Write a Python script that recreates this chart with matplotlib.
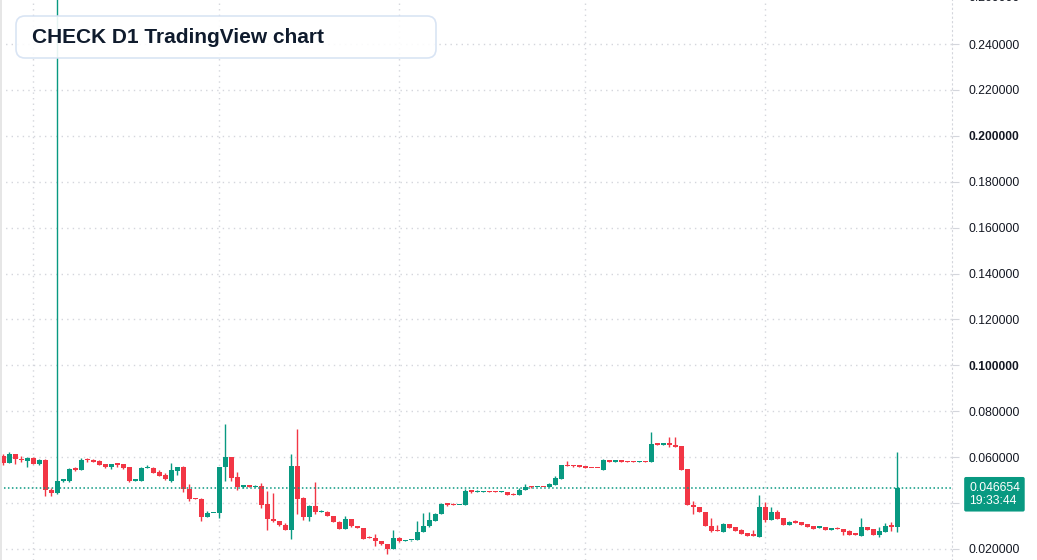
import matplotlib
matplotlib.use("Agg")
import matplotlib.pyplot as plt
from matplotlib.patches import FancyBboxPatch, Rectangle
from matplotlib.transforms import IdentityTransform
import numpy as np

# daily OHLC (150 candles)
opens = [0.0604, 0.0575, 0.0615, 0.0591, 0.0584, 0.0597, 0.0571, 0.0588, 0.0459, 0.0445,
         0.0497, 0.0496, 0.0551, 0.0546, 0.0590, 0.0584, 0.0583, 0.0571, 0.0559, 0.0571,
         0.0571, 0.0558, 0.0497, 0.0497, 0.0551, 0.0554, 0.0536, 0.0523, 0.0497, 0.0541,
         0.0558, 0.0462, 0.0423, 0.0419, 0.0338, 0.0355, 0.0355, 0.0556, 0.0600, 0.0513,
         0.0470, 0.0477, 0.0470, 0.0475, 0.0397, 0.0332, 0.0323, 0.0306, 0.0281, 0.0562,
         0.0423, 0.0338, 0.0387, 0.0359, 0.0361, 0.0343, 0.0319, 0.0285, 0.0332, 0.0301,
         0.0293, 0.0250, 0.0249, 0.0236, 0.0223, 0.0198, 0.0249, 0.0233, 0.0237, 0.0237,
         0.0272, 0.0298, 0.0324, 0.0351, 0.0397, 0.0397, 0.0390, 0.0390, 0.0454, 0.0448,
         0.0448, 0.0451, 0.0451, 0.0448, 0.0449, 0.0438, 0.0435, 0.0455, 0.0471, 0.0468,
         0.0472, 0.0468, 0.0480, 0.0506, 0.0567, 0.0567, 0.0562, 0.0562, 0.0554, 0.0554,
         0.0546, 0.0588, 0.0581, 0.0584, 0.0581, 0.0581, 0.0577, 0.0581, 0.0577, 0.0658,
         0.0655, 0.0658, 0.0654, 0.0649, 0.0549, 0.0393, 0.0384, 0.0362, 0.0301, 0.0284,
         0.0275, 0.0310, 0.0297, 0.0284, 0.0271, 0.0262, 0.0253, 0.0384, 0.0327, 0.0362,
         0.0336, 0.0306, 0.0319, 0.0319, 0.0310, 0.0301, 0.0293, 0.0297, 0.0284, 0.0290,
         0.0288, 0.0280, 0.0267, 0.0258, 0.0297, 0.0288, 0.0262, 0.0275, 0.0301, 0.0297]
highs = [0.0615, 0.0622, 0.0615, 0.0604, 0.0600, 0.0600, 0.0591, 0.0593, 0.0464, 0.3000,
         0.0501, 0.0554, 0.0558, 0.0597, 0.0597, 0.0593, 0.0588, 0.0571, 0.0571, 0.0571,
         0.0571, 0.0558, 0.0506, 0.0558, 0.0567, 0.0557, 0.0543, 0.0529, 0.0575, 0.0558,
         0.0562, 0.0484, 0.0423, 0.0423, 0.0367, 0.0358, 0.0556, 0.0745, 0.0600, 0.0535,
         0.0480, 0.0480, 0.0480, 0.0488, 0.0451, 0.0445, 0.0323, 0.0314, 0.0615, 0.0723,
         0.0426, 0.0393, 0.0493, 0.0371, 0.0364, 0.0343, 0.0322, 0.0345, 0.0332, 0.0301,
         0.0293, 0.0255, 0.0267, 0.0236, 0.0223, 0.0284, 0.0252, 0.0240, 0.0240, 0.0323,
         0.0358, 0.0362, 0.0358, 0.0401, 0.0401, 0.0401, 0.0393, 0.0462, 0.0459, 0.0458,
         0.0454, 0.0451, 0.0451, 0.0451, 0.0449, 0.0442, 0.0467, 0.0484, 0.0475, 0.0471,
         0.0472, 0.0488, 0.0516, 0.0567, 0.0585, 0.0567, 0.0562, 0.0562, 0.0554, 0.0554,
         0.0594, 0.0588, 0.0584, 0.0584, 0.0584, 0.0584, 0.0584, 0.0584, 0.0710, 0.0662,
         0.0658, 0.0688, 0.0688, 0.0649, 0.0549, 0.0409, 0.0384, 0.0362, 0.0336, 0.0306,
         0.0313, 0.0310, 0.0297, 0.0288, 0.0271, 0.0284, 0.0436, 0.0406, 0.0384, 0.0371,
         0.0336, 0.0323, 0.0327, 0.0319, 0.0310, 0.0301, 0.0297, 0.0297, 0.0293, 0.0294,
         0.0288, 0.0284, 0.0267, 0.0336, 0.0297, 0.0288, 0.0297, 0.0314, 0.0319, 0.0623]
lows = [0.0567, 0.0575, 0.0571, 0.0578, 0.0559, 0.0571, 0.0567, 0.0433, 0.0429, 0.0438,
        0.0493, 0.0491, 0.0541, 0.0542, 0.0578, 0.0581, 0.0565, 0.0555, 0.0549, 0.0558,
        0.0549, 0.0490, 0.0497, 0.0497, 0.0551, 0.0533, 0.0516, 0.0499, 0.0494, 0.0523,
        0.0448, 0.0407, 0.0416, 0.0320, 0.0338, 0.0355, 0.0333, 0.0498, 0.0498, 0.0459,
        0.0465, 0.0471, 0.0468, 0.0378, 0.0281, 0.0317, 0.0300, 0.0281, 0.0242, 0.0354,
        0.0325, 0.0320, 0.0354, 0.0359, 0.0342, 0.0316, 0.0285, 0.0285, 0.0294, 0.0290,
        0.0245, 0.0246, 0.0211, 0.0216, 0.0177, 0.0198, 0.0229, 0.0233, 0.0233, 0.0237,
        0.0272, 0.0294, 0.0324, 0.0351, 0.0388, 0.0390, 0.0390, 0.0390, 0.0446, 0.0448,
        0.0448, 0.0448, 0.0448, 0.0448, 0.0435, 0.0435, 0.0435, 0.0455, 0.0467, 0.0468,
        0.0468, 0.0468, 0.0480, 0.0506, 0.0562, 0.0558, 0.0559, 0.0551, 0.0551, 0.0551,
        0.0546, 0.0577, 0.0581, 0.0581, 0.0577, 0.0577, 0.0577, 0.0577, 0.0577, 0.0654,
        0.0655, 0.0644, 0.0646, 0.0546, 0.0390, 0.0354, 0.0359, 0.0298, 0.0272, 0.0277,
        0.0275, 0.0293, 0.0280, 0.0267, 0.0258, 0.0258, 0.0253, 0.0317, 0.0327, 0.0332,
        0.0306, 0.0306, 0.0314, 0.0306, 0.0297, 0.0288, 0.0293, 0.0284, 0.0284, 0.0285,
        0.0262, 0.0262, 0.0262, 0.0258, 0.0284, 0.0262, 0.0253, 0.0275, 0.0280, 0.0275]
closes = [0.0575, 0.0615, 0.0590, 0.0587, 0.0597, 0.0571, 0.0588, 0.0455, 0.0445, 0.0497,
          0.0501, 0.0549, 0.0545, 0.0588, 0.0586, 0.0581, 0.0568, 0.0559, 0.0571, 0.0567,
          0.0555, 0.0497, 0.0501, 0.0554, 0.0554, 0.0533, 0.0520, 0.0503, 0.0543, 0.0558,
          0.0462, 0.0419, 0.0416, 0.0338, 0.0358, 0.0358, 0.0556, 0.0600, 0.0510, 0.0470,
          0.0477, 0.0471, 0.0475, 0.0393, 0.0329, 0.0320, 0.0303, 0.0281, 0.0562, 0.0419,
          0.0338, 0.0387, 0.0359, 0.0362, 0.0342, 0.0316, 0.0285, 0.0332, 0.0298, 0.0290,
          0.0245, 0.0246, 0.0233, 0.0220, 0.0198, 0.0249, 0.0233, 0.0236, 0.0240, 0.0275,
          0.0301, 0.0327, 0.0353, 0.0397, 0.0393, 0.0390, 0.0393, 0.0452, 0.0449, 0.0451,
          0.0451, 0.0448, 0.0448, 0.0451, 0.0435, 0.0435, 0.0458, 0.0471, 0.0468, 0.0471,
          0.0468, 0.0484, 0.0510, 0.0567, 0.0562, 0.0562, 0.0559, 0.0551, 0.0551, 0.0551,
          0.0588, 0.0577, 0.0584, 0.0581, 0.0577, 0.0577, 0.0581, 0.0577, 0.0658, 0.0654,
          0.0658, 0.0654, 0.0646, 0.0546, 0.0390, 0.0381, 0.0359, 0.0298, 0.0280, 0.0277,
          0.0309, 0.0293, 0.0280, 0.0267, 0.0258, 0.0258, 0.0384, 0.0327, 0.0362, 0.0332,
          0.0306, 0.0319, 0.0314, 0.0306, 0.0297, 0.0288, 0.0297, 0.0284, 0.0290, 0.0285,
          0.0275, 0.0262, 0.0262, 0.0297, 0.0284, 0.0262, 0.0280, 0.0300, 0.0297, 0.046654]

month_starts = [5, 36, 66, 97, 127]  # vertical grid lines
price_ticks = [0.02, 0.04, 0.06, 0.08, 0.10, 0.12, 0.14, 0.16, 0.18, 0.20, 0.22, 0.24]
last_time = "19:33:44"
title = "CHECK D1 TradingView chart"

UP = "#089981"
DOWN = "#F23645"
TXT = "#131722"
GRID = "#d4d6dc"

o = np.array(opens)
h = np.array(highs)
l = np.array(lows)
c = np.array(closes)
x = np.arange(len(o))
cols = np.where(c >= o, UP, DOWN)

fig = plt.figure(figsize=(10.37, 5.6), dpi=100)
fig.patch.set_facecolor("white")
ax = fig.add_axes([0, 0, 952 / 1037, 1])

# grid
for v in price_ticks:
    ax.axhline(v, color=GRID, lw=1, ls=(0, (1, 3)), zorder=0)
for m in month_starts:
    ax.axvline(m, color=GRID, lw=1, ls=(0, (1, 3)), zorder=0)

# candles
ax.vlines(x, l, h, colors=cols, lw=1, zorder=2)
bottoms = np.minimum(o, c)
heights = np.maximum(np.abs(c - o), 0.0006)
ax.bar(x, heights, bottom=bottoms, width=0.75, color=cols, lw=0, zorder=3)

# current price line
last = closes[-1]
ax.axhline(last, color=UP, lw=1.1, ls=(0, (1, 1.6)), zorder=4)

ax.set_xlim(-0.55, 158.12)
ax.set_ylim(0.0152, 0.2592)

# the 0.04 label sits under the last-price tag, so it is left blank
ax.yaxis.tick_right()
ax.set_yticks(price_ticks)
ax.set_yticklabels(["" if abs(v - 0.04) < 1e-9 else f"{v:.6f}" for v in price_ticks],
                   fontsize=8.7, color=TXT, family="Liberation Sans")
for lab, v in zip(ax.get_yticklabels(), price_ticks):
    if abs(v - 0.1) < 1e-9 or abs(v - 0.2) < 1e-9:
        lab.set_fontweight("bold")
ax.tick_params(axis="y", length=5, color=GRID, pad=6.8)
ax.tick_params(axis="x", length=0, labelbottom=False)
ax.text(1.0175, 0.26, "0.260000", transform=ax.get_yaxis_transform(), fontsize=8.7,
        color=TXT, family="Liberation Sans", va="center", ha="left", clip_on=False)

for s in ["top", "left", "bottom"]:
    ax.spines[s].set_visible(False)
ax.spines["right"].set_color(GRID)
ax.spines["right"].set_linestyle((0, (1, 3)))
ax.set_facecolor("white")

# last price label
ax.annotate(f"{last:.6f}\n{last_time}", xy=(1, last), xycoords=("axes fraction", "data"),
            xytext=(17, 6), textcoords="offset pixels", va="top", ha="left",
            fontsize=8.7, color="white", family="Liberation Sans", linespacing=1.1,
            bbox=dict(boxstyle="round,pad=0.4,rounding_size=0.15", fc=UP, ec="none"),
            annotation_clip=False)

# title box
box = FancyBboxPatch((16, 560 - 58), 420, 42, boxstyle="round,pad=0,rounding_size=9",
                     transform=IdentityTransform(), fc="white", ec="#d5e2f3", lw=1.2,
                     alpha=0.9, zorder=10)
fig.patches.append(box)
fig.text(32 / 1037, 1 - 37.5 / 560, title, fontsize=15, fontweight="bold",
         color="#0f1b2d", family="Liberation Sans", va="center", ha="left", zorder=11)

# left edge strip
fig.patches.append(Rectangle((0, 0), 2 / 1037, 1, transform=fig.transFigure,
                             fc="#e6e6e6", ec="none", zorder=12))

fig.savefig("out.png", dpi=100)
